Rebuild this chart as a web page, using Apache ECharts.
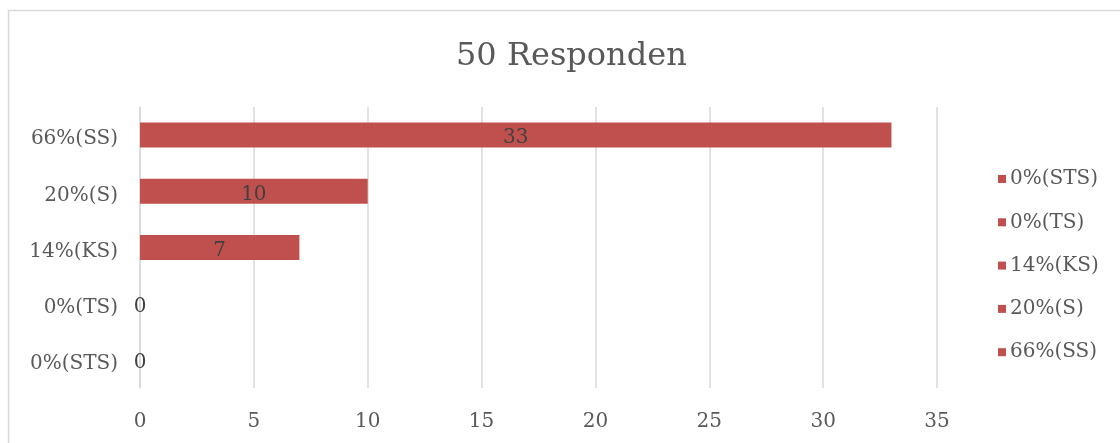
<!DOCTYPE html>
<html>
<head>
<meta charset="utf-8">
<script src="https://cdn.jsdelivr.net/npm/echarts@6/dist/echarts.min.js"></script>
<style>
  html, body { margin: 0; padding: 0; background: #fff; }
  #chart { width: 1120px; height: 443px; }
</style>
</head>
<body>
<div id="chart"></div>
<script>
// categories bottom -> top, as on the axis
var kategori = ['0%(STS)', '0%(TS)', '14%(KS)', '20%(S)', '66%(SS)'];
var jumlah = [0, 0, 7, 10, 33];
var xTicks = { min: 0, max: 35, interval: 5 };

var fontUtama = 'DejaVu Serif';
var warnaTeks = '#595959';
var warnaBar = '#C0504D';

// one series per category so every category gets its own legend entry
var seriesList = kategori.map(function (nama, i) {
    var data = jumlah.map(function (v, j) { return j === i ? v : '-'; });
    return {
        name: nama,
        type: 'bar',
        stack: 'total',
        barWidth: 25,
        data: data,
        itemStyle: { color: warnaBar },
        label: {
            show: true,
            position: 'inside',
            offset: [0, 3],
            color: '#404040',
            fontFamily: fontUtama,
            fontSize: 20
        }
    };
});

var chartOption = {
    animation: false,
    textStyle: { fontFamily: fontUtama, color: warnaTeks },
    graphic: [{
        type: 'rect',
        shape: { x: 8.5, y: 10.5, width: 1200, height: 600 },
        style: { fill: 'none', stroke: '#d9d9d9', lineWidth: 1.5 }
    }],
    title: {
        text: '50 Responden',
        left: 451,
        top: 36,
        textStyle: { fontFamily: fontUtama, fontWeight: 'normal', fontSize: 32, color: warnaTeks }
    },
    legend: {
        orient: 'vertical',
        left: 993,
        top: 164,
        itemWidth: 8,
        itemHeight: 8,
        itemGap: 23.3,
        icon: 'rect',
        data: kategori,
        textStyle: { fontFamily: fontUtama, fontSize: 20, color: warnaTeks, padding: [0, 0, 0, -1] }
    },
    grid: { left: 140, right: 183, top: 107, bottom: 55 },
    xAxis: {
        type: 'value',
        min: xTicks.min,
        max: xTicks.max,
        interval: xTicks.interval,
        axisLine: { show: false },
        axisTick: { show: false },
        splitLine: { lineStyle: { color: '#d9d9d9', width: 1.5 } },
        axisLabel: { margin: 24, fontFamily: fontUtama, fontSize: 20, color: warnaTeks }
    },
    yAxis: {
        type: 'category',
        data: kategori,
        axisLine: { lineStyle: { color: '#d9d9d9', width: 1.5 } },
        axisTick: { length: 6, lineStyle: { color: '#d9d9d9', width: 1.5 } },
        axisLabel: {
            margin: 22,
            formatter: '{t|{value}}',
            rich: {
                t: { fontFamily: fontUtama, fontSize: 20, color: warnaTeks, padding: [8, 0, 0, 0] }
            }
        }
    },
    series: seriesList
};

var grafik = echarts.init(document.getElementById('chart'));
grafik.setOption(chartOption);
</script>
</body>
</html>
